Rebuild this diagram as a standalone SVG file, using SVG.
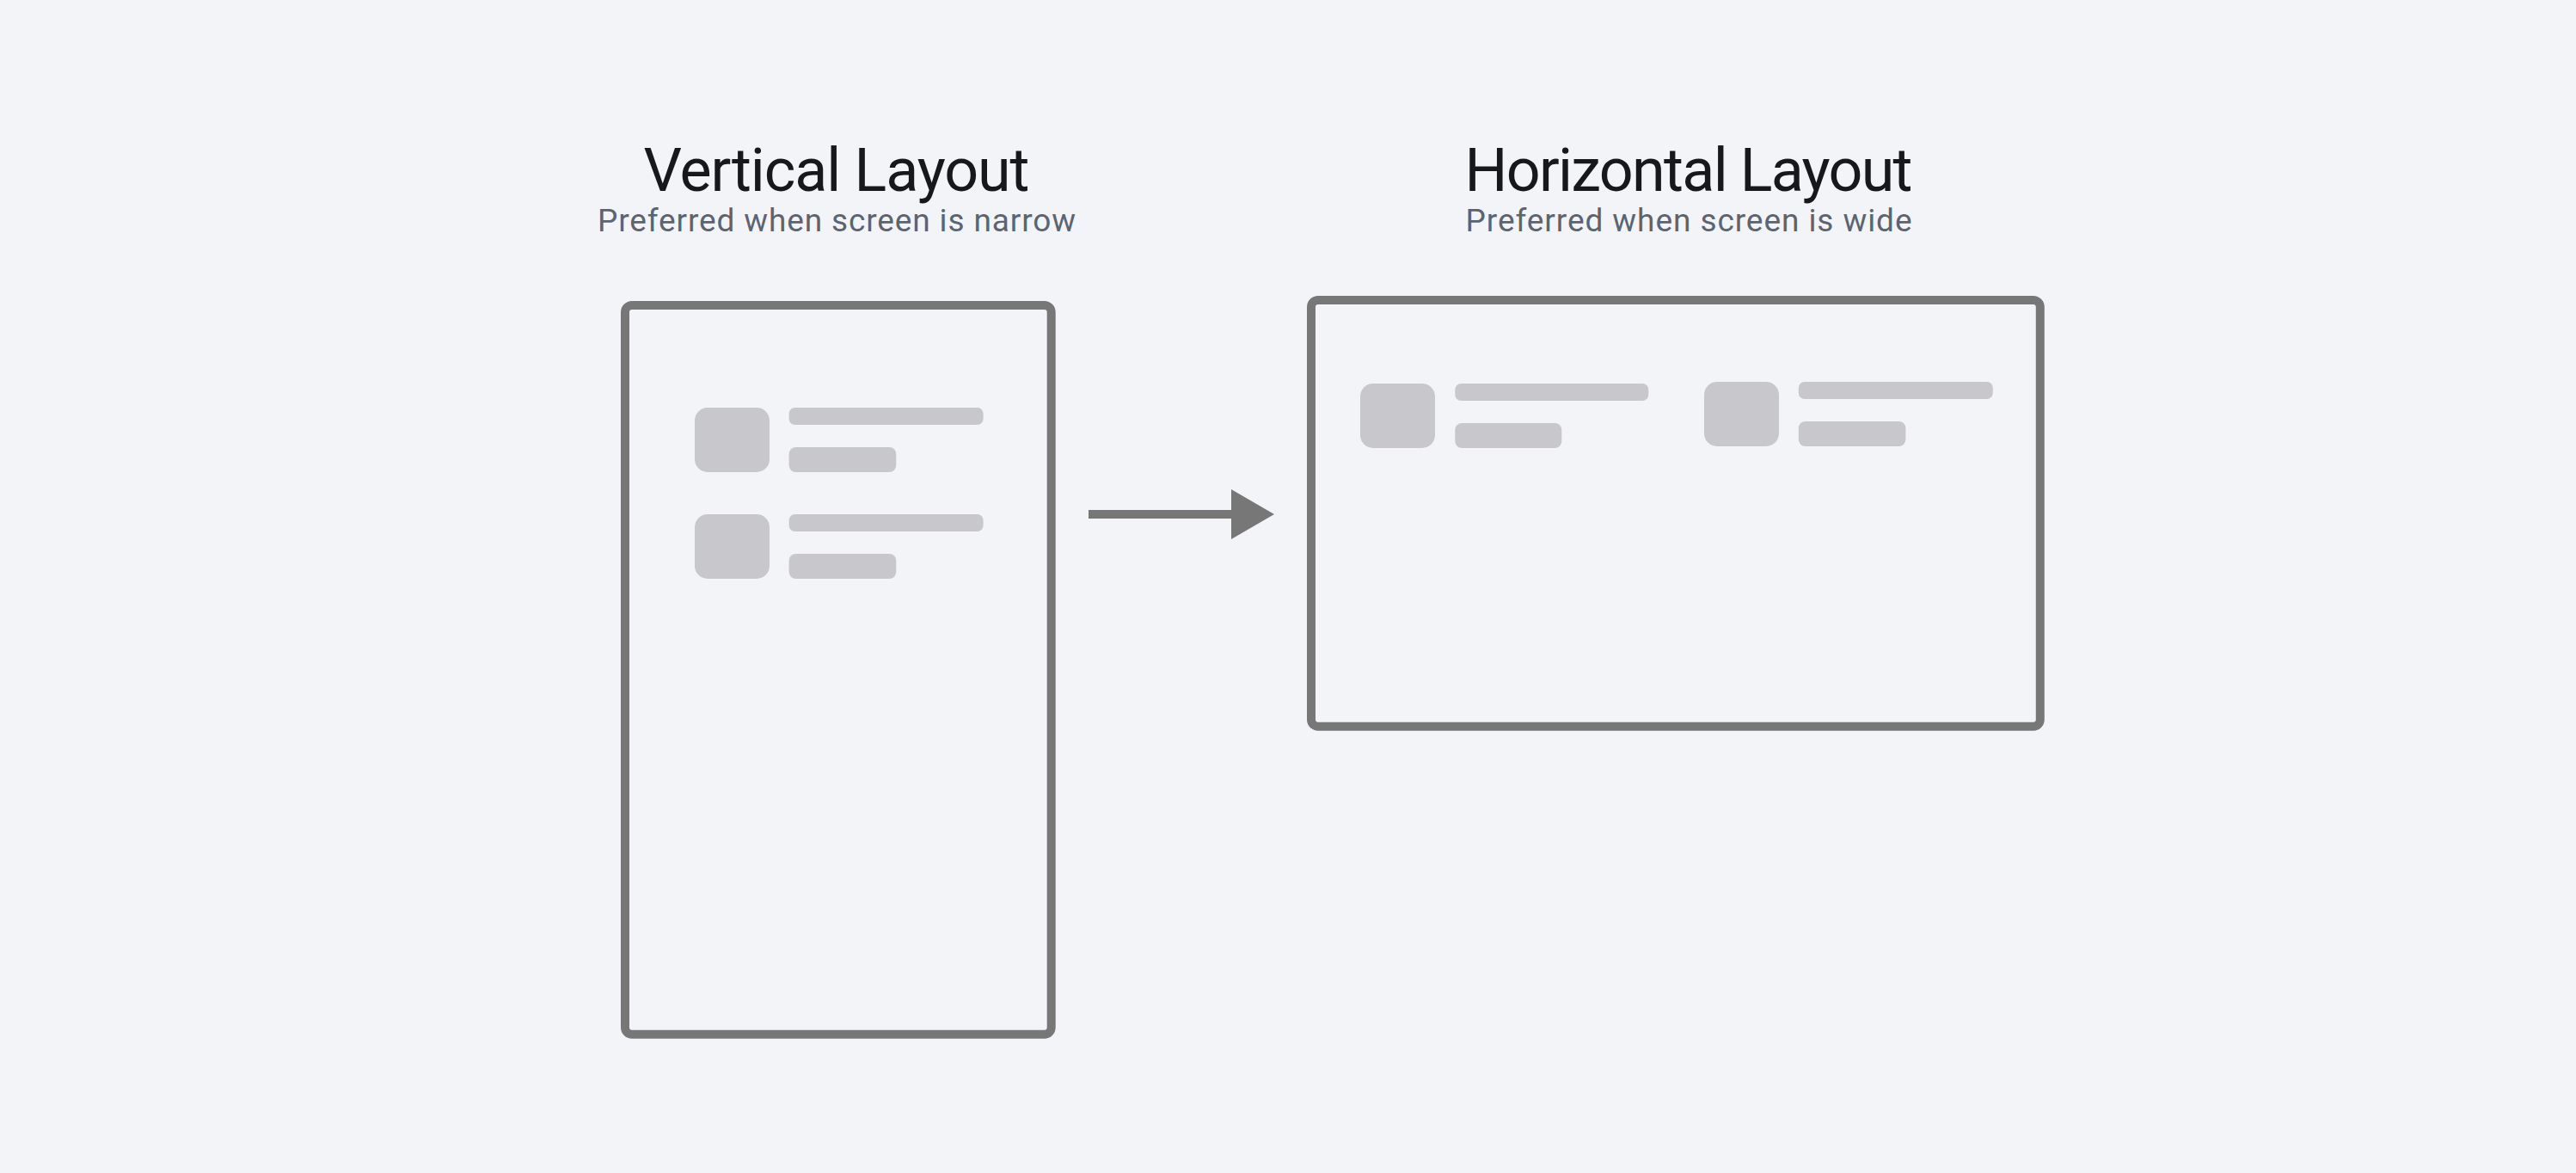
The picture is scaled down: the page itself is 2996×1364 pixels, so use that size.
<svg xmlns="http://www.w3.org/2000/svg" width="2996" height="1364" viewBox="0 0 2996 1364">
<style>
.bg{fill:#f3f4f8}
.frame{fill:none;stroke:#777777;stroke-width:10}
.ph{fill:#c8c7cc}
.title{font-family:Roboto,"Liberation Sans",sans-serif;font-size:70px;fill:#17181c;text-anchor:middle}
.sub{font-family:Roboto,"Liberation Sans",sans-serif;font-size:37px;fill:#5b6470;text-anchor:middle}
.conn{stroke:#777777;stroke-width:10;fill:none}
</style>
<defs>
<marker id="head" markerUnits="userSpaceOnUse" markerWidth="50" markerHeight="58" refX="0" refY="29" orient="auto" viewBox="0 0 50 58">
<path d="M0,0 L50,29 L0,58 Z" fill="#777777"/>
</marker>
</defs>
<rect class="bg" x="0" y="0" width="2996" height="1364"/>
<g id="vertical-layout">
<text class="title" x="973" y="222" textLength="449">Vertical Layout</text>
<text class="sub" x="973" y="269" textLength="556">Preferred when screen is narrow</text>
<rect class="frame" x="727" y="355" width="495.7" height="847.7" rx="8"/>
<rect class="ph" x="808" y="474" width="87" height="75" rx="15"/>
<rect class="ph" x="917.6" y="474" width="226" height="20" rx="7"/>
<rect class="ph" x="917.6" y="520" width="124.7" height="29" rx="8"/>
<rect class="ph" x="808" y="598" width="87" height="75" rx="15"/>
<rect class="ph" x="917.6" y="598" width="226" height="20" rx="7"/>
<rect class="ph" x="917.6" y="644" width="124.7" height="29" rx="8"/>
</g>
<g id="horizontal-layout">
<text class="title" x="1964" y="222" textLength="521">Horizontal Layout</text>
<text class="sub" x="1964" y="269" textLength="519">Preferred when screen is wide</text>
<rect class="frame" x="1525" y="349" width="847.8" height="495.7" rx="8"/>
<rect class="ph" x="1582" y="446" width="87" height="75" rx="15"/>
<rect class="ph" x="1692.3" y="446" width="225" height="20" rx="7"/>
<rect class="ph" x="1692.3" y="492" width="124" height="29" rx="8"/>
<rect class="ph" x="1982" y="444" width="87" height="75" rx="15"/>
<rect class="ph" x="2091.8" y="444" width="226" height="20" rx="7"/>
<rect class="ph" x="2091.8" y="490" width="124.6" height="29" rx="8"/>
</g>
<g id="connectors">
<line class="conn" x1="1266" y1="598" x2="1432" y2="598" marker-end="url(#head)"/>
</g>
</svg>
